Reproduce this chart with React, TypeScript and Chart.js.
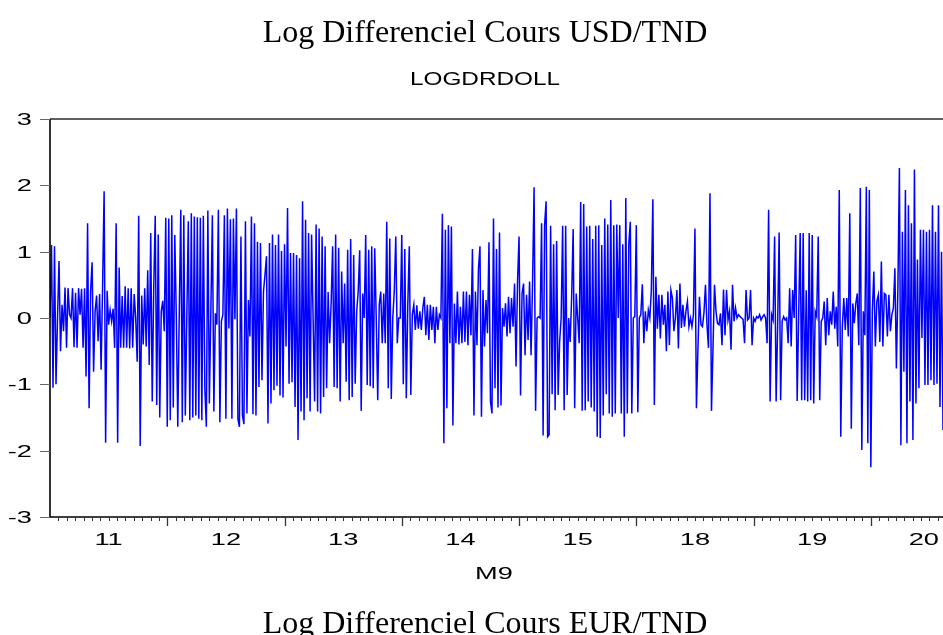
import React, { useEffect, useRef } from "react";
import { Chart, registerables } from "chart.js";

Chart.register(...registerables);

const TITLE = "Log Differenciel Cours USD/TND";
const SERIES_NAME = "LOGDRDOLL";
const X_AXIS_NAME = "M9";
const NEXT_TITLE = "Log Differenciel Cours EUR/TND";

const yearLabels = ["11", "12", "13", "14", "15", "18", "19", "20"];
const yTickValues = [-3, -2, -1, 0, 1, 2, 3];
const MINOR_PER_YEAR = 14;
const FULL_YEAR_POINTS = 78;

const y11 = [
  0.0, 1.1, -1.05, 1.08, -1.0, 0.0, 0.86, -0.5, 0.2, -0.2, 0.46, -0.45, 0.45, 0.05, 0.0, 0.45,
  -0.44, 0.38, -0.45, 0.45, 0.05, 0.44, -0.45, 0.45, -0.88, 1.43, -1.36, 0.4, 0.84, -0.81, 0.1, 0.34,
  -0.35, 0.36, -0.78, 0.5, 1.91, -1.88, 0.41, -0.1, 0.12, -0.05, 0.14, -0.45, 1.43, -1.88, 0.76, -0.45,
  0.33, -0.45, 0.48, -0.45, 0.45, -0.46, 0.45, -0.45, 0.36, 0.0, -0.66, 1.54, -1.93, 0.34, -0.4, 0.45,
  -0.43, 0.72, -0.71, 1.28, -1.26, 0.45, 1.54, -1.31, 1.26, -1.5, 0.1, 0.26, -0.2, 1.51,
];
const y12 = [
  -1.64, 1.5, -1.54, 1.55, -1.35, 1.25, 0.05, -1.64, 0.1, 1.63, -1.57, 1.55, -1.47, 0.0, 1.46, -1.54,
  1.58, -1.5, 1.53, -1.47, 1.52, -1.52, 1.51, -1.54, 1.54, -1.06, -1.64, 1.62, -1.29, 0.1, 1.55, -1.41,
  0.07, -0.1, 1.63, -1.57, -0.05, 0.05, 1.55, -1.52, 1.65, -0.16, 1.49, -1.52, 1.5, -0.02, 1.65, -1.52,
  -1.64, 1.23, -1.47, -1.6, 1.46, -1.44, 0.27, -0.28, 1.53, -1.45, 1.43, -1.47, 1.15, -1.04, 1.13, -0.94,
  0.4, 0.65, 0.93, -1.59, 1.13, -1.29, 1.26, -1.09, 1.1, -1.02, 1.26, -1.17, 1.01, -1.2,
];
const y13 = [
  1.11, -0.43, 1.66, -0.99, 0.98, -0.97, 0.98, -1.34, 0.95, -1.84, 0.9, -1.41, 1.76, -1.54, 1.48, -1.21,
  1.28, -1.41, 1.26, 0.0, -1.26, 1.41, -1.41, 1.35, -1.44, 1.23, -1.19, 1.08, -1.06, 0.39, -0.38, 0.22,
  1.08, -1.04, 1.26, -1.06, 1.06, -1.26, 0.7, -0.38, 0.52, -0.96, 1.03, -1.24, 1.19, -1.19, 0.95, -0.99,
  0.1, 0.4, 1.02, -1.4, 0.37, 0.0, 1.25, -1.01, 1.03, -1.03, 1.08, -1.06, 1.05, 0.0, -1.24, 0.2,
  0.4, -0.38, 0.37, -0.38, 1.45, -1.06, 1.2, -1.22, 0.0, 0.4, 1.23, -0.38, 0.0, 0.0,
];
const y14 = [
  1.25, -1.0, 1.04, -1.21, 0.2, 1.08, -1.16, 0.05, 0.2, -0.18, 0.19, -0.16, 0.1, -0.18, 0.15, 0.32,
  -0.26, 0.2, -0.33, 0.2, -0.18, 0.17, -0.38, 0.17, -0.18, 0.05, 0.0, 1.57, -1.89, 1.33, -1.36, 1.4,
  -0.38, 1.38, -1.62, 0.22, -0.38, 0.4, -0.4, 0.17, -0.38, 0.4, -0.36, 0.4, -0.41, 0.35, -0.26, 1.04,
  -1.47, 0.4, -0.41, 0.74, 1.08, -1.49, 0.42, -0.43, 0.27, -0.23, 1.14, -1.26, -1.44, 1.5, -1.06, 1.04,
  -1.35, 1.29, -1.32, 0.15, -0.13, 0.22, -0.28, 0.32, -0.23, 0.3, -0.13, 0.52, -0.73, 0.55,
];
const y15 = [
  1.23, -1.17, 0.37, 0.52, -0.56, 0.35, -0.33, 0.55, -0.56, 0.55, 1.97, -1.4, 0.0, 0.02, 0.0, 1.43,
  -1.77, 1.4, 1.76, -1.79, -1.76, 1.39, -1.15, 1.11, -1.39, 1.16, -1.16, -0.36, 0.0, 1.39, -1.39, 1.39,
  -1.16, 0.0, -0.36, 0.32, 1.34, -1.36, 0.37, 0.0, -0.38, 1.75, -1.4, 1.72, -1.39, 1.38, -1.26, 1.39,
  -1.35, 1.19, -1.41, 1.39, -1.79, 1.4, -1.81, 1.1, -1.47, 1.5, -1.15, 1.41, -1.44, 1.78, -1.49, 1.4,
  -1.44, 1.41, 0.0, 1.4, -1.44, 1.11, -1.79, 1.81, -1.44, 1.11, 1.45, -1.44, 0.0, 0.02,
];
const y18 = [
  1.4, -1.42, 0.0, 0.05, 0.51, -0.38, 0.1, -0.2, 0.12, 0.0, 0.42, 1.79, -1.31, 0.62, -0.16, 0.35,
  -0.31, 0.35, -0.1, 0.2, -0.5, 0.4, -0.41, 0.42, 0.3, -0.2, 0.0, 0.42, -0.46, 0.52, -0.15, 0.2,
  -0.13, 0.1, 0.25, -0.13, 0.0, -0.13, 0.05, 1.35, -1.36, -0.46, 0.32, -0.1, -0.13, 0.08, 0.5, -0.1,
  -0.45, 1.88, -1.4, -0.46, 0.5, 0.1, -0.08, -0.1, 0.07, -0.41, 0.43, -0.26, 0.42, -0.03, 0.1, -0.48,
  0.5, -0.05, 0.15, 0.0, 0.05, 0.02, 0.0, -0.02, -0.38, 0.42, -0.03, 0.0, 0.42, -0.41,
];
const y19 = [
  0.0, -0.05, 0.02, 0.0, 0.05, -0.03, 0.02, 0.05, 0.0, -0.38, 1.63, -1.26, 0.05, -0.03, 1.23, -1.26,
  -0.13, 1.29, -1.24, -0.05, 0.02, -0.03, 0.0, -0.38, 0.45, -0.43, 0.42, 0.0, 1.25, -1.25, 0.05, 1.28,
  -1.24, 1.28, -1.24, 0.42, -1.26, 1.28, -1.24, 1.25, -1.29, 0.1, 0.02, 1.23, -1.24, -0.05, 0.0, 0.25,
  -0.41, 0.3, -0.26, 0.1, -0.1, 0.4, -0.16, 0.17, -0.43, 1.93, -1.79, -0.16, 0.3, -0.18, 0.3, -0.28,
  1.58, -1.67, 0.22, -0.08, 0.22, 0.37, -0.41, 1.96, -1.99, 0.1, -0.26, 1.98, -1.89, 1.93,
];
const y20 = [
  -2.25, 0.1, 0.7, -0.43, 0.25, 0.35, -0.36, 0.85, -0.43, 0.37, 0.35, -0.28, 0.35, -0.2, 0.05, 0.15,
  0.75, -0.76, 0.45, 2.26, -1.92, 1.3, -0.81, 1.93, -1.89, 1.7, -1.26, 1.43, -1.84, 2.24, -1.29, 0.88,
  -1.06, 1.33, -0.3, 1.33, -1.01, 1.3, -1.01, 1.33, -0.94, 1.7, -1.01, 1.3, -0.99, 1.7, -1.34, 1.0,
  -1.69,
];

const yearSeries = [y11, y12, y13, y14, y15, y18, y19, y20];

const SANS = "'Liberation Sans', Arial, sans-serif";
const SERIF = "'Liberation Serif', 'Times New Roman', serif";
const SX = 1.7; // horizontal stretch of the embedded chart picture's text

function stretchedText(
  ctx: CanvasRenderingContext2D,
  text: string,
  x: number,
  y: number,
  align: CanvasTextAlign,
  sx: number
) {
  ctx.save();
  ctx.translate(x, y);
  ctx.scale(sx, 1);
  ctx.textAlign = align;
  ctx.textBaseline = "alphabetic";
  ctx.fillText(text, 0, 0);
  ctx.restore();
}

export default function App() {
  const ref = useRef<HTMLCanvasElement | null>(null);

  useEffect(() => {
    const canvas = ref.current;
    if (!canvas) return;

    const values: number[] = [];
    const bounds: number[] = [0];
    yearSeries.forEach((ys) => {
      ys.forEach((v) => values.push(v));
      bounds.push(values.length);
    });
    const N = values.length;
    const points = values.map((v, i) => ({ x: i, y: v }));

    const decor = {
      id: "decor",
      afterDatasetsDraw(chart: any) {
        const { ctx, chartArea: a, scales } = chart;
        const xs = scales.x;
        const ys = scales.y;
        ctx.save();

        // frame
        ctx.strokeStyle = "#2a2a2a";
        ctx.lineWidth = 1.6;
        ctx.beginPath();
        ctx.moveTo(a.left, a.top);
        ctx.lineTo(a.right + 2, a.top);
        ctx.stroke();
        ctx.strokeStyle = "#000";
        ctx.lineWidth = 1.6;
        ctx.beginPath();
        ctx.moveTo(a.left, a.top);
        ctx.lineTo(a.left, a.bottom);
        ctx.lineTo(a.right + 2, a.bottom);
        ctx.stroke();

        // y ticks and labels
        ctx.fillStyle = "#000";
        ctx.font = `16px ${SANS}`;
        yTickValues.forEach((v) => {
          const py = Math.round(ys.getPixelForValue(v)) + 0.5;
          ctx.strokeStyle = "#666";
          ctx.lineWidth = 1;
          ctx.beginPath();
          ctx.moveTo(a.left - 10, py);
          ctx.lineTo(a.left, py);
          ctx.stroke();
          stretchedText(ctx, String(v), a.left - 18, py + 5.8, "right", SX);
        });

        // x ticks
        ctx.strokeStyle = "#333";
        ctx.lineWidth = 1;
        const step = FULL_YEAR_POINTS / MINOR_PER_YEAR;
        for (let k = 0; k < bounds.length - 1; k++) {
          const start = bounds[k];
          for (let j = 1; j < MINOR_PER_YEAR; j++) {
            const idx = start + j * step;
            if (idx > N - 1) break;
            const px = Math.round(xs.getPixelForValue(idx)) + 0.5;
            ctx.beginPath();
            ctx.moveTo(px, a.bottom);
            ctx.lineTo(px, a.bottom + 4);
            ctx.stroke();
          }
        }
        ctx.lineWidth = 1.3;
        for (let k = 1; k < bounds.length - 1; k++) {
          const px = Math.round(xs.getPixelForValue(bounds[k])) + 0.5;
          ctx.beginPath();
          ctx.moveTo(px, a.bottom);
          ctx.lineTo(px, a.bottom + 9);
          ctx.stroke();
        }

        // x labels
        ctx.fillStyle = "#000";
        ctx.font = `16px ${SANS}`;
        for (let k = 0; k < yearLabels.length; k++) {
          const s = bounds[k];
          const e = Math.min(bounds[k] + FULL_YEAR_POINTS, N - 1);
          let cx = (xs.getPixelForValue(s) + xs.getPixelForValue(s + FULL_YEAR_POINTS)) / 2;
          const w = ctx.measureText(yearLabels[k]).width * SX;
          cx = Math.min(cx, xs.getPixelForValue(e) - w / 2 - 4);
          stretchedText(ctx, yearLabels[k], cx, a.bottom + 28, "center", SX);
        }

        // x axis name
        ctx.font = `16px ${SANS}`;
        stretchedText(ctx, X_AXIS_NAME, 494, a.bottom + 62, "center", SX);

        // series name
        ctx.font = `18px ${SANS}`;
        stretchedText(ctx, SERIES_NAME, 485, 85, "center", 1.35);

        // document captions (not stretched)
        ctx.font = `32px ${SERIF}`;
        ctx.textAlign = "center";
        ctx.textBaseline = "alphabetic";
        ctx.fillText(TITLE, 485, 42);
        ctx.fillText(NEXT_TITLE, 485, 633);

        ctx.restore();
      },
    };

    const chart = new Chart(canvas, {
      type: "line",
      data: {
        datasets: [
          {
            data: points,
            borderColor: "#0000ff",
            borderWidth: 1.5,
            pointRadius: 0,
            tension: 0,
            fill: false,
          },
        ],
      },
      options: {
        animation: false,
        responsive: false,
        maintainAspectRatio: false,
        events: [],
        layout: { padding: { left: 50, right: 0, top: 119, bottom: 118 } },
        plugins: { legend: { display: false }, tooltip: { enabled: false }, title: { display: false } },
        scales: {
          x: { type: "linear", min: 0, max: N - 1, display: false },
          y: { min: -3, max: 3, display: false },
        },
      },
      plugins: [decor],
    });

    return () => chart.destroy();
  }, []);

  return (
    <div style={{ position: "absolute", left: 0, top: 0, width: 943, height: 635, background: "#fff" }}>
      <canvas ref={ref} width={943} height={635} style={{ display: "block" }} />
    </div>
  );
}
